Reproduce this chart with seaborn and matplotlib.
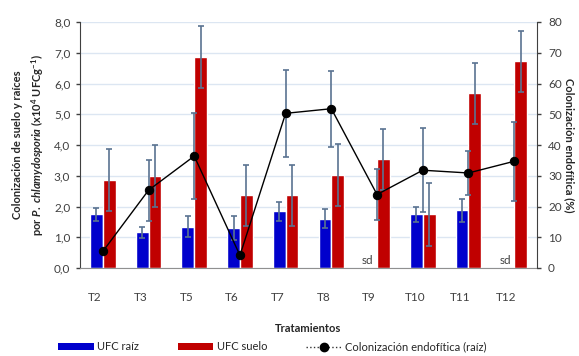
import numpy as np
import pandas as pd
import matplotlib
matplotlib.use("Agg")
import matplotlib.pyplot as plt
import seaborn as sns
from matplotlib.lines import Line2D
from matplotlib.patches import Patch
from matplotlib.transforms import ScaledTranslation

tratamientos = ["T2", "T3", "T5", "T6", "T7", "T8", "T9", "T10", "T11", "T12"]
ufc_raiz = [1.74, 1.16, 1.34, 1.29, 1.85, 1.60, np.nan, 1.74, 1.88, np.nan]
ufc_raiz_err = [0.22, 0.18, 0.34, 0.39, 0.31, 0.31, np.nan, 0.25, 0.38, np.nan]
ufc_suelo = [2.86, 2.99, 6.86, 2.36, 2.36, 3.03, 3.53, 1.74, 5.68, 6.72]
ufc_suelo_err = [1.0, 1.02, 1.0, 1.0, 1.0, 1.0, 1.0, 1.02, 1.0, 1.0]
colonizacion = [5.4, 25.3, 36.4, 4.1, 50.3, 51.8, 23.9, 31.8, 30.9, 34.7]
colonizacion_err = [0, 9.9, 14.0, 0, 14.2, 12.3, 8.4, 13.7, 7.2, 12.8]

BLUE = "#0000CC"
RED = "#C00000"
ERR = "#5A7391"

sns.set_style("white")
plt.rcParams["font.family"] = ["Lato", "DejaVu Sans"]
plt.rcParams["mathtext.fontset"] = "custom"
plt.rcParams["mathtext.rm"] = "Lato:bold"
plt.rcParams["mathtext.bf"] = "Lato:bold"
plt.rcParams["mathtext.it"] = "Lato:italic:bold"

df = pd.DataFrame({
    "tratamiento": tratamientos * 2,
    "serie": ["UFC raíz"] * 10 + ["UFC suelo"] * 10,
    "valor": ufc_raiz + ufc_suelo,
})

fig = plt.figure(figsize=(5.79, 3.56), dpi=100)
ax = fig.add_axes([80 / 579, 88 / 356, 457 / 579, 246 / 356])

sns.barplot(data=df, x="tratamiento", y="valor", hue="serie",
            hue_order=["UFC raíz", "UFC suelo"], palette=[BLUE, RED],
            width=0.56, gap=0, saturation=1, errorbar=None, legend=False,
            ax=ax, zorder=2)

x = np.arange(len(tratamientos))
ax.errorbar(x - 0.14, ufc_raiz, yerr=ufc_raiz_err, fmt="none", ecolor=ERR,
            elinewidth=1.2, capsize=2.5, capthick=1.2, zorder=3)
ax.errorbar(x + 0.14, ufc_suelo, yerr=ufc_suelo_err, fmt="none", ecolor=ERR,
            elinewidth=1.2, capsize=2.5, capthick=1.2, zorder=3)

for i, v in enumerate(ufc_raiz):
    if np.isnan(v):
        ax.text(i - 0.2, 0.08, "sd", ha="center", va="bottom", fontsize=8.5, color="#404040")

ax.set_ylim(0, 8)
ax.set_xlim(-0.5, 9.5)
ax.set_yticks(np.arange(0, 8.1, 1))
ax.set_yticklabels([f"{v:.1f}".replace(".", ",") for v in np.arange(0, 8.1, 1)])
ax.yaxis.grid(True, color="#DCE6F2", linewidth=1)
ax.set_axisbelow(True)
ax.set_xlabel("Tratamientos", fontsize=8, fontweight="bold", labelpad=14)
ax.set_ylabel("Colonización de suelo y raíces\npor $\\mathit{P.\\ chlamydosporia}$ (x10$^{4}$ UFCg$^{-1}$)",
              fontsize=8, fontweight="bold", labelpad=6, linespacing=1.5)
ax.tick_params(axis="y", left=True, length=3, width=1, color="#404040", pad=4,
               labelsize=8.5, labelcolor="#404040")
ax.tick_params(axis="x", bottom=False, pad=14, labelsize=8.5, labelcolor="#404040")
for lab in ax.get_xticklabels():
    lab.set_transform(lab.get_transform() + ScaledTranslation(-0.08, 0, fig.dpi_scale_trans))
for side in ["top", "right"]:
    ax.spines[side].set_visible(False)
ax.spines["left"].set_color("#404040")
ax.spines["bottom"].set_color("#909090")

ax2 = ax.twinx()
col_df = pd.DataFrame({"tratamiento": tratamientos, "col": colonizacion})
ax2.errorbar(x, colonizacion, yerr=colonizacion_err, fmt="none", ecolor=ERR,
             elinewidth=1.2, capsize=2.5, capthick=1.2, zorder=3)
sns.pointplot(data=col_df, x="tratamiento", y="col", color="black", markers="o",
              markersize=6, linewidth=1, errorbar=None, ax=ax2, zorder=4)
ax2.set_ylim(0, 80)
ax2.set_xlim(-0.5, 9.5)
ax2.set_yticks(np.arange(0, 81, 10))
ax2.set_ylabel("")
ax2.set_xlabel("")
fig.text(569 / 579, 1 - 145 / 356, "Colonización endofítica (%)", fontsize=8,
         fontweight="bold", rotation=-90, ha="center", va="center")
ax2.tick_params(axis="y", right=True, length=3, width=1, color="#404040", pad=5,
                labelsize=8.5, labelcolor="#404040")
for side in ["top", "left", "bottom"]:
    ax2.spines[side].set_visible(False)
ax2.spines["right"].set_color("#404040")
ax2.grid(False)

handles = [
    Patch(facecolor=BLUE, edgecolor="none"),
    Patch(facecolor=RED, edgecolor="none"),
    Line2D([0], [0], color="#333333", linestyle=":", linewidth=1, marker="o",
           markersize=6, markerfacecolor="black", markeredgecolor="black"),
]
fig.legend(handles, ["UFC raíz", "UFC suelo", "Colonización endofítica (raíz)"],
           loc="center", bbox_to_anchor=(0.47, 1 - 347 / 356), ncol=3, frameon=False,
           fontsize=8, handlelength=3.2, handleheight=0.6, columnspacing=3.5,
           handletextpad=0.3)

fig.savefig("out.png", dpi=100)
